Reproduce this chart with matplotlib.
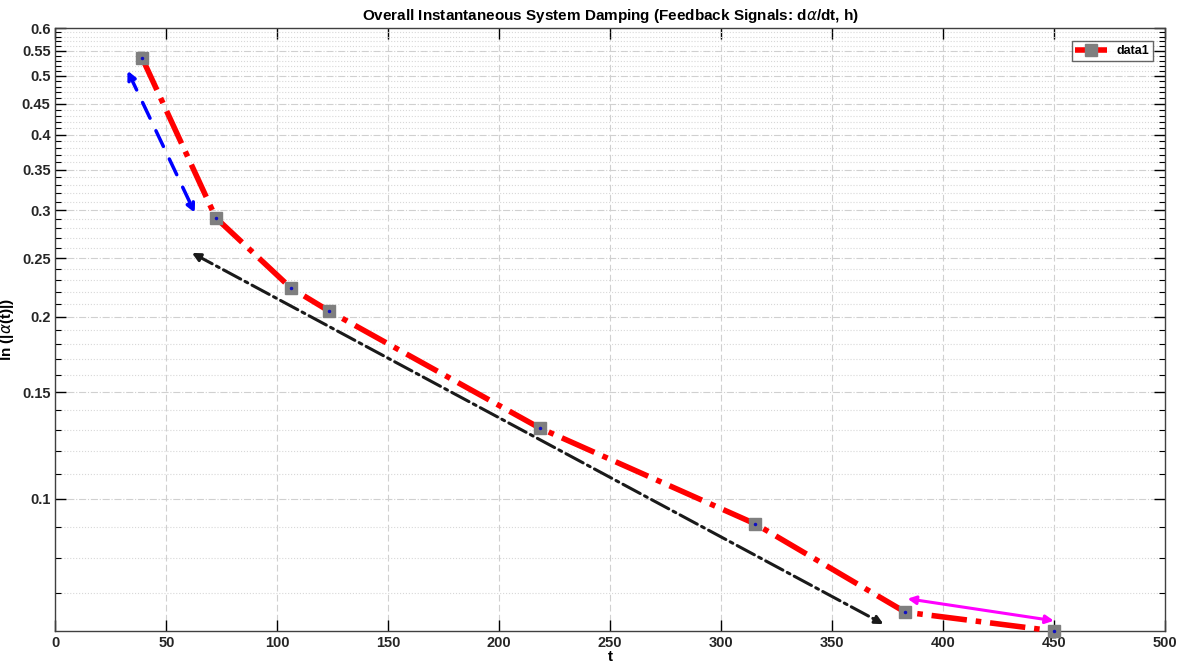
import numpy as np
import matplotlib.pyplot as plt
from matplotlib.ticker import FixedLocator, FixedFormatter, NullFormatter

plt.rcParams['font.family'] = ['Liberation Sans', 'DejaVu Sans']

t = [39, 72.3, 106, 123.2, 218.2, 315.5, 383, 450]
damping = [0.536, 0.2914, 0.2233, 0.2045, 0.131, 0.0909, 0.065, 0.0605]

y_ticks = [0.1, 0.15, 0.2, 0.25, 0.3, 0.35, 0.4, 0.45, 0.5, 0.55, 0.6]
y_minor = [round(v, 2) for v in np.arange(0.06, 0.601, 0.01)]
x_ticks = [0, 50, 100, 150, 200, 250, 300, 350, 400, 450, 500]

# annotation arrows: (start, end) in data coords
blue_arrow = ((32.5, 0.510), (62.8, 0.297))
black_arrow = ((61.5, 0.255), (373.2, 0.0621))
magenta_arrow = ((384, 0.0684), (450, 0.0629))

fig = plt.figure(figsize=(11.85, 6.67), dpi=100)
ax = fig.add_axes([0.0468, 0.054, 0.9362, 0.904])
ax.set_yscale('log')
ax.set_xlim(0, 500)
ax.set_ylim(0.0605, 0.6)

ax.yaxis.set_major_locator(FixedLocator(y_ticks))
ax.yaxis.set_major_formatter(FixedFormatter([f"{v:g}" for v in y_ticks]))
ax.yaxis.set_minor_locator(FixedLocator([v for v in y_minor if v not in y_ticks]))
ax.yaxis.set_minor_formatter(NullFormatter())
ax.set_xticks(x_ticks)

ax.grid(True, which='major', axis='x', color='#d0d0d0', linestyle=(0, (6, 3)), linewidth=0.8)
ax.grid(True, which='major', axis='y', color='#d0d0d0', linestyle='-.', linewidth=0.8)
ax.grid(True, which='minor', axis='y', color='#d8d8d8', linestyle=':', linewidth=0.8)
ax.set_axisbelow(True)

ax.tick_params(which='both', direction='in', top=True, right=True, labelsize=10.5)
ax.tick_params(which='major', length=8, width=1.0)
ax.tick_params(which='minor', length=4, width=0.8)
for lbl in ax.get_xticklabels() + ax.get_yticklabels():
    lbl.set_fontweight('bold')
    lbl.set_color('#262626')
for s in ax.spines.values():
    s.set_color('#404040')
    s.set_linewidth(1.0)

ax.plot(t, damping, color='red', linestyle='-.', linewidth=4,
        marker='s', markersize=8, markerfacecolor='#7f7f7f', markeredgecolor='#7f7f7f',
        label='data1', clip_on=False, zorder=3)
ax.plot(t, damping, linestyle='none', marker='.', markersize=3, color='#1010c0',
        clip_on=False, zorder=4)

def double_arrow(p, q, color, ls, lw):
    ax.annotate('', xy=q, xytext=p,
                arrowprops=dict(arrowstyle='<|-|>', color=color, linestyle=ls, linewidth=lw,
                                mutation_scale=12, shrinkA=0, shrinkB=0))

double_arrow(*blue_arrow, color='blue', ls=(0, (5, 4)), lw=2.5)
double_arrow(*black_arrow, color='#1a1a1a', ls='-.', lw=2.2)
double_arrow(*magenta_arrow, color='magenta', ls='-', lw=2.2)

ax.set_title('Overall Instantaneous System Damping (Feedback Signals: d$\\alpha$/dt, h)',
             fontsize=11, fontweight='bold', pad=6)
ax.set_xlabel('t', fontsize=11, fontweight='bold', labelpad=0)
ax.set_ylabel('ln (|$\\alpha$(t)|)', fontsize=11, fontweight='bold', labelpad=4)

leg = ax.legend(loc='upper right', bbox_to_anchor=(0.995, 0.988), fontsize=9, frameon=True,
                fancybox=False, edgecolor='#404040', handlelength=2.5, borderpad=0.3)
for txt in leg.get_texts():
    txt.set_fontweight('bold')

fig.savefig('out.png', dpi=100)
